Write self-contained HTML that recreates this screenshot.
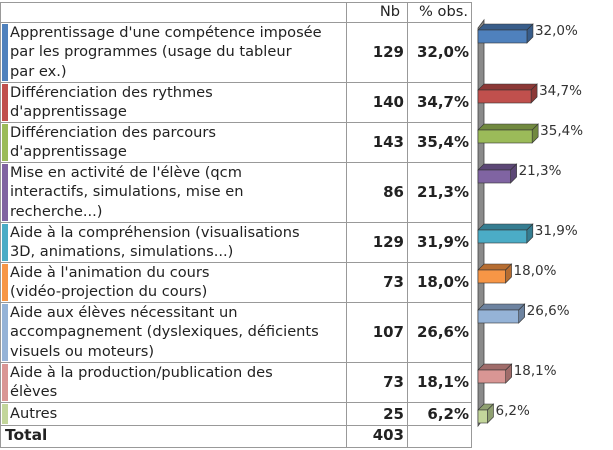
<!DOCTYPE html>
<html><head><meta charset="utf-8">
<style>
body{margin:0;background:#fff;width:613px;height:450px;overflow:hidden;font-family:"DejaVu Sans","Liberation Sans",sans-serif;font-size:14.6px;color:#222;position:relative}
.c{position:absolute;box-sizing:border-box;border:1px solid #999;}
.t{position:absolute;line-height:19.5px;white-space:nowrap}
.b{font-weight:bold;font-size:15px}
</style></head>
<body>
<div id="tbl"></div>
<svg id="chart" width="613" height="450" style="position:absolute;left:0;top:0"></svg>
<script>
const labels=[["Apprentissage d'une compétence imposée","par les programmes (usage du tableur","par ex.)"],["Différenciation des rythmes","d'apprentissage"],["Différenciation des parcours","d'apprentissage"],["Mise en activité de l'élève (qcm","interactifs, simulations, mise en","recherche...)"],["Aide à la compréhension (visualisations","3D, animations, simulations...)"],["Aide à l'animation du cours","(vidéo-projection du cours)"],["Aide aux élèves nécessitant un","accompagnement (dyslexiques, déficients","visuels ou moteurs)"],["Aide à la production/publication des","élèves"],["Autres"]];
const counts=[129,140,143,86,129,73,107,73,25];
const pcts=[32.0,34.7,35.4,21.3,31.9,18.0,26.6,18.1,6.2];
const total=403;
const colors=["#4f81bd","#c0504d","#9bbb59","#8064a2","#4bacc6","#f79646","#95b3d7","#d99694","#c3d69b"];
const dark=["#385d8a","#8c3836","#71893f","#5c4776","#357d91","#b66d31","#6d83a0","#a06c6a","#8fa071"];
const tbl=document.getElementById('tbl');
const svg=document.getElementById('chart');
const NS="http://www.w3.org/2000/svg";
function fmt(v){return v.toFixed(1).replace('.',',')+'%';}
function cell(x,y,w,h){const d=document.createElement('div');d.className='c';d.style.cssText=`left:${x}px;top:${y}px;width:${w}px;height:${h}px`;tbl.appendChild(d);return d;}
function txt(s,x,y,cls,right){const d=document.createElement('div');d.className='t '+(cls||'');d.textContent=s;if(right!==undefined){d.style.right=(613-right)+'px';}else d.style.left=x+'px';d.style.top=y+'px';tbl.appendChild(d);return d;}
const X0=0,X1=346,X2=407,X3=472;
let h=cell(X1,2,X2-X1+1,21);
h=cell(X2,2,X3-X2,21);
cell(X0,2,X1-X0+1,21);
txt('Nb',0,2,'',400);txt('% obs.',0,2,'',468);
let y=22;
const sc=1.53, ax=478;
labels.forEach((lines,i)=>{
  const rh=lines.length===3?60:lines.length===2?40:23;
  const r=cell(X0,y,X1-X0+1,rh+1);
  
  
  cell(X1,y,X2-X1+1,rh+1);cell(X2,y,X3-X2,rh+1);
  const s=document.createElement('div');s.style.cssText=`position:absolute;left:2px;top:${y+2}px;width:6px;height:${rh-3}px;background:${colors[i]}`;
  
  
  tbl.appendChild(s);
  const ty=y+(rh-lines.length*19.5)/2;
  lines.forEach((l,k)=>txt(l,10,ty+k*19.5));
  txt(String(counts[i]),0,y+(rh-19.5)/2+1,'b',404);
  txt(fmt(pcts[i]),0,y+(rh-19.5)/2+1,'b',469);
  const by=y+8, bw=pcts[i]*sc, bh=13, d=6;
  const g=document.createElementNS(NS,'g');
  
  
  g.innerHTML=`<polygon points="${ax},${by} ${ax+d},${by-d} ${ax+bw+d},${by-d} ${ax+bw},${by}" fill="${dark[i]}" stroke="#333" stroke-width="0.6"/>
<polygon points="${ax+bw},${by} ${ax+bw+d},${by-d} ${ax+bw+d},${by+bh-d} ${ax+bw},${by+bh}" fill="${dark[i]}" stroke="#333" stroke-width="0.6"/>
<rect x="${ax}" y="${by}" width="${bw}" height="${bh}" fill="${colors[i]}" stroke="#333" stroke-width="0.6"/>
<text x="${ax+bw+d+2}" y="${by+5}" font-size="13.5" fill="#333" font-family="DejaVu Sans,sans-serif">${fmt(pcts[i])}</text>`;
  svg.appendChild(g);
  y+=rh;
});
cell(X0,y,X1-X0+1,23);cell(X1,y,X2-X1+1,23);cell(X2,y,X3-X2,23);
txt('Total',5,y+1,'b').style.fontSize='15.5px';
txt(String(total),0,y+1,'b',404);
const ag=document.createElementNS(NS,'g');


ag.innerHTML=`<polygon points="478,28 484,20 484,418 478,426" fill="#8a8a8a" stroke="#444" stroke-width="0.8"/>`;
svg.insertBefore(ag,svg.firstChild);
</script>
</body></html>
